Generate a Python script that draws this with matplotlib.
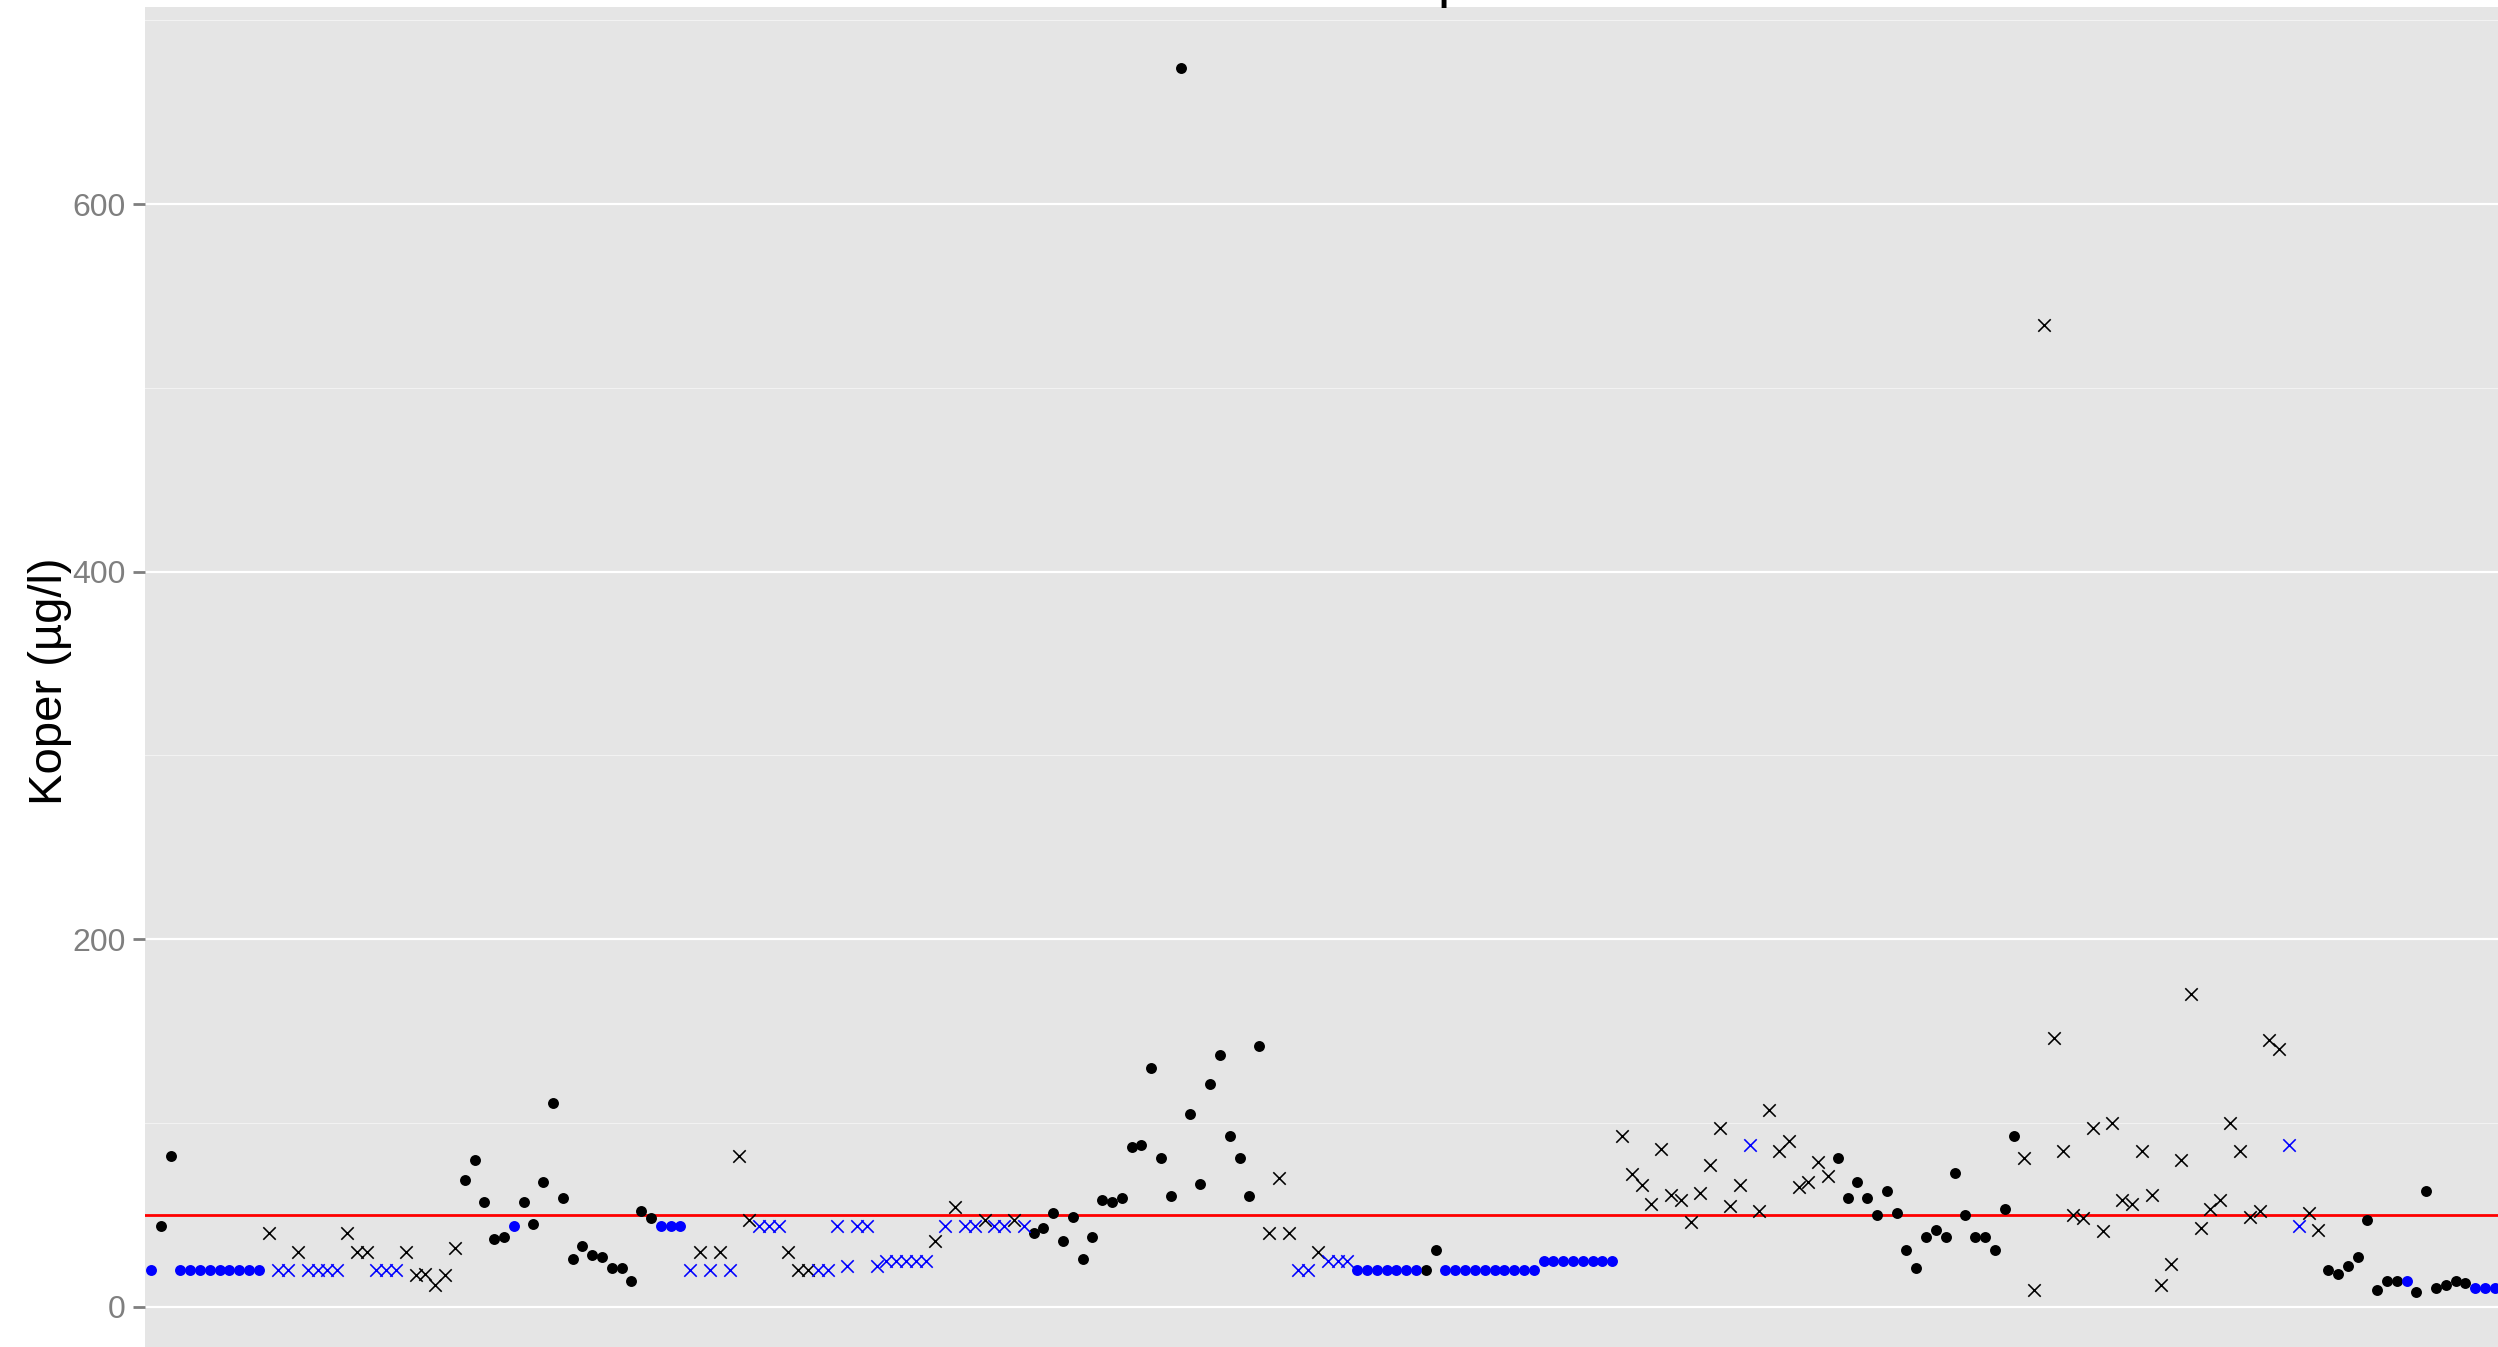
import matplotlib
matplotlib.use("Agg")
import matplotlib.pyplot as plt
import numpy as np

plt.rcParams["font.family"] = ["Liberation Sans", "DejaVu Sans"]

# Koper (ug/l) per monster, in volgorde van de (discrete) x-as
koper = [
    20, 44, 82, 20, 20, 20, 20, 20, 20, 20, 20, 20,
    40, 20, 20, 30, 20, 20, 20, 20, 40, 30, 30, 20, 20, 20, 30, 17, 18, 12, 17, 32,
    69, 80, 57, 37, 38, 44, 57, 45, 68, 111, 59, 26, 33, 28, 27, 21, 21, 14, 52, 48,
    44, 44, 44, 20, 30, 20, 30, 20, 82, 47, 44, 44, 44, 30, 20, 20, 20, 20, 44, 22,
    44, 44, 22, 25, 25, 25, 25, 25, 36, 44, 54, 44, 44, 47, 44, 44, 47, 44, 40, 43,
    51, 36, 49, 26, 38, 58, 57, 59, 87, 88, 130, 81, 60, 674, 105, 67, 121, 137, 93, 81,
    60, 142, 40, 70, 40, 20, 20, 30, 25, 25, 25, 20, 20, 20, 20, 20, 20, 20, 20, 31,
    20, 20, 20, 20, 20, 20, 20, 20, 20, 20, 25, 25, 25, 25, 25, 25, 25, 25, 93, 72,
    66, 56, 86, 61, 58, 46, 62, 77, 97, 55, 66, 88, 52, 107, 85, 90, 65, 68, 79, 71,
    81, 59, 68, 59, 50, 63, 51, 31, 21, 38, 42, 38, 73, 50, 38, 38, 31, 53, 93, 81,
    9, 534, 146, 85, 50, 48, 97, 41, 100, 58, 56, 85, 61, 12, 23, 80, 170, 43, 53, 58,
    100, 85, 49, 52, 145, 140, 88, 44, 51, 42, 20, 18, 22, 27, 47, 9, 14, 14, 14, 8,
    63, 10, 12, 14, 13, 10, 10, 10,
]

# o = punt, x = kruis
vorm = (
    "ooooooooooooxxxxxxxx" "xxxxxxxxxxxxoooooooo" "oooooooooooooooxxxxx"
    "xxxxxxxxxxxxxxxxxxxx" "xxxxxxxxxxoooooooooo" "ooooooooooooooxxxxxx"
    "xxxooooooooooooooooo" "ooooooooooxxxxxxxxxx" "xxxxxxxxxxxxoooooooo"
    "oooooooooooxxxxxxxxx" "xxxxxxxxxxxxxxxxxxxx" "xxoooooooooooooooooo"
)

# B = onder detectiegrens (blauw), K = gemeten (zwart)
kleur = (
    "BKKBBBBBBBBBKBBKBBBB" "KKKBBBKKKKKKKKKKKBKK" "KKKKKKKKKKKKBBBBKBKB"
    "KKBBBKKKBBBBBBBBBBBB" "KBKBBKBBKBKKKKKKKKKK" "KKKKKKKKKKKKKKKKKBBK"
    "BBBBBBBBBBKKBBBBBBBB" "BBBBBBBBBBKKKKKKKKKK" "KKKBKKKKKKKKKKKKKKKK"
    "KKKKKKKKKKKKKKKKKKKK" "KKKKKKKKKKKKKKKKKKBB" "KKKKKKKKKKBKKKKKKBBB"
)

norm = 50
n_categorieen = 265

fig = plt.figure(figsize=(24.98, 13.47), dpi=100)
ax = fig.add_axes([145 / 2498, -6 / 1347, 2601 / 2498, 1346 / 1347])
ax.set_facecolor("#E5E5E5")
for s in ax.spines.values():
    s.set_visible(False)

y = np.array(koper, dtype=float)
x = np.arange(len(y))
vorm_arr = np.array(list(vorm))
kleur_arr = np.array(list(kleur))
kleuren = {"K": "black", "B": "blue"}

ax.axhline(norm, color="red", lw=2.0, zorder=2)

for k, c in kleuren.items():
    m = (vorm_arr == "o") & (kleur_arr == k)
    ax.scatter(x[m], y[m], s=62, marker="o", color=c, linewidths=0, zorder=3)
    m = (vorm_arr == "x") & (kleur_arr == k)
    ax.scatter(x[m], y[m], s=80, marker="x", color=c, linewidths=1.15, zorder=3)

ax.set_xlim(-0.6, n_categorieen - 0.4)
ax.set_ylim(-25.2, 707.3)
ax.set_xticks([])
ax.set_yticks([0, 200, 400, 600])
ax.set_yticks([100, 300, 500, 700], minor=True)
ax.grid(which="major", axis="y", color="white", lw=1.6, zorder=0)
ax.grid(which="minor", axis="y", color="#F2F2F2", lw=0.8, zorder=0)
ax.set_axisbelow(True)
ax.tick_params(axis="y", which="major", length=8.5, width=2, color="#7F7F7F",
               labelcolor="#7F7F7F", labelsize=23, pad=5.5)
ax.tick_params(axis="y", which="minor", length=0)

fig.text(50 / 2498, 1 - 681 / 1347, "Koper (µg/l)", rotation=90, ha="center",
         va="center", fontsize=34, color="black")
# titel valt in het origineel grotendeels buiten beeld
fig.text(1445 / 2498, 1 + 4 / 1347, "Koper", ha="center", va="baseline",
         fontsize=40, color="black")

fig.savefig("out.png", dpi=100)
